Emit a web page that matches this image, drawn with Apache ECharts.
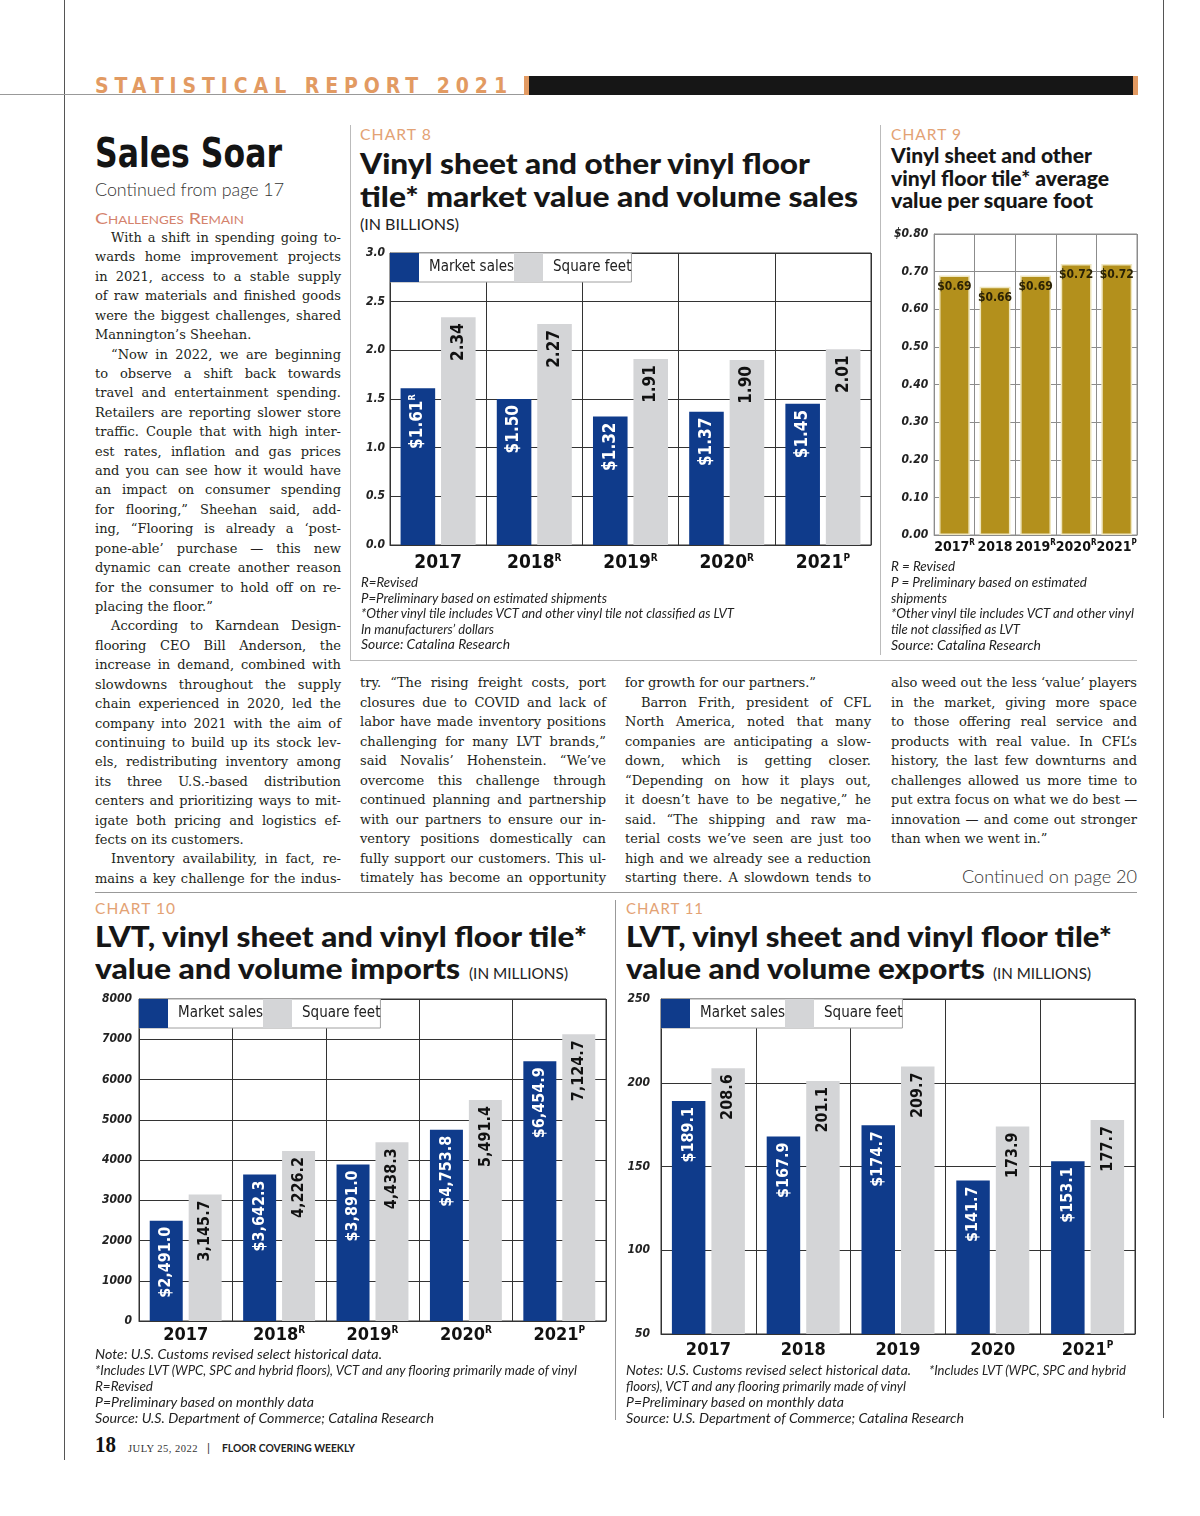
<!DOCTYPE html>
<html><head><meta charset="utf-8">
<script src="https://cdn.jsdelivr.net/npm/echarts@6/dist/echarts.min.js"></script>
<style>
html,body{margin:0;padding:0;background:#fff}
body{width:1200px;height:1516px;position:relative;overflow:hidden}
.t{position:absolute;white-space:nowrap;line-height:1;transform-origin:0 0}
.r{position:absolute}
.ch{position:absolute}
</style></head><body>
<div class="r" style="left:64px;top:0;width:1px;height:1460px;background:#555"></div>
<div class="r" style="left:1163px;top:0;width:1px;height:1418px;background:#555"></div>
<div class="r" style="left:0;top:94px;width:1138px;height:1px;background:#999"></div>
<div class="r" style="left:524px;top:76px;width:5px;height:19px;background:#e29a62"></div>
<div class="r" style="left:529px;top:76px;width:604px;height:19px;background:#161616"></div>
<div class="r" style="left:1133px;top:76px;width:5px;height:19px;background:#e29a62"></div>
<div class="r" style="left:350px;top:125px;width:1px;height:535px;background:#bbb"></div>
<div class="r" style="left:350px;top:660px;width:787px;height:1px;background:#bbb"></div>
<div class="r" style="left:880px;top:125px;width:1px;height:530px;background:#bbb"></div>
<div class="r" style="left:95px;top:892px;width:1042px;height:1px;background:#999"></div>
<div class="r" style="left:615px;top:900px;width:1px;height:520px;background:#999"></div>

<div id="c8" class="ch" style="left:355px;top:240px;width:525px;height:340px"></div>
<div id="c9" class="ch" style="left:891px;top:225px;width:250px;height:340px"></div>
<div id="c10" class="ch" style="left:85px;top:990px;width:525px;height:360px"></div>
<div id="c11" class="ch" style="left:615px;top:990px;width:530px;height:375px"></div>

<script>
// ---------------- DATA ----------------
const years = ['2017', '2018', '2019', '2020', '2021'];

const c8Marks = ['', 'R', 'R', 'R', 'P'];
const c8Sales = [1.61, 1.50, 1.32, 1.37, 1.45];
const c8SalesMarks = ['R', '', '', '', ''];
const c8Sqft = [2.34, 2.27, 1.91, 1.90, 2.01];
const c8Ticks = { min: 0, max: 3, interval: 0.5 };

const c9Marks = ['R', '', 'R', 'R', 'P'];
const c9Value = [0.69, 0.66, 0.69, 0.72, 0.72];
const c9Ticks = { min: 0, max: 0.8, interval: 0.1 };

const c10Marks = ['', 'R', 'R', 'R', 'P'];
const c10Sales = [2491.0, 3642.3, 3891.0, 4753.8, 6454.9];
const c10Sqft = [3145.7, 4226.2, 4438.3, 5491.4, 7124.7];
const c10Ticks = { min: 0, max: 8000, interval: 1000 };

const c11Marks = ['', '', '', '', 'P'];
const c11Sales = [189.1, 167.9, 174.7, 141.7, 153.1];
const c11Sqft = [208.6, 201.1, 209.7, 173.9, 177.7];
const c11Ticks = { min: 50, max: 250, interval: 50 };

const seriesNames = ['Market sales', 'Square feet'];

// ---------------- TEXT ----------------
const FN = '"Liberation Sans Narrow","DejaVu Sans Condensed","Arial Narrow",sans-serif';
const FL = 'Lato,"Open Sans",sans-serif';
const FS = '"DejaVu Serif","Liberation Serif",serif';

function put(html, x, base, css, target, mode) {
  const el = document.createElement('div');
  el.className = 't';
  el.style.cssText += css;
  el.innerHTML = html + '<i style="display:inline-block;width:0;height:0;vertical-align:baseline"></i>';
  document.body.appendChild(el);
  const b = el.lastChild.offsetTop;
  const w = el.getBoundingClientRect().width;
  el.style.top = (base - b) + 'px';
  el.style.left = (mode === 'right' ? x - (target || w) : x) + 'px';
  if (target) {
    if (mode === 'justify') {
      if (w < target) {
        el.style.whiteSpace = 'normal';
        el.style.width = target + 'px';
        el.style.textAlign = 'justify';
        el.style.textAlignLast = 'justify';
      } else el.style.transform = 'scaleX(' + (target / w) + ')';
    } else if (mode === 'fitmax') {
      if (w > target) el.style.transform = 'scaleX(' + (target / w) + ')';
    } else if (mode === 'ls') {
      const n = el.textContent.length;
      el.style.letterSpacing = ((target - w) / n) + 'px';
    } else el.style.transform = 'scaleX(' + (target / w) + ')';
  }
  return el;
}

// header
put('STATISTICAL REPORT 2021', 95, 93, `font:bold 21px ${FN};color:#e29a62`, 418, 'ls');
put('Sales Soar', 95, 167, `font:bold 41px ${FN};color:#141414`, 187);
put('Continued from page 17', 95, 196, `font:300 18px ${FL};color:#333`, 189);
put('Challenges Remain', 95, 224, `font:16px ${FL};font-variant:small-caps;color:#d4826c`, 149);

const body = `font:13px ${FS};color:#231f20`;
const col1 = [
 '>With a shift in spending going to-', 'wards home improvement projects', 'in 2021, access to a stable supply',
 'of raw materials and finished goods', 'were the biggest challenges, shared', '|Mannington’s Sheehan.',
 '>“Now in 2022, we are beginning', 'to observe a shift back towards', 'travel and entertainment spending.',
 'Retailers are reporting slower store', 'traffic. Couple that with high inter-', 'est rates, inflation and gas prices',
 'and you can see how it would have', 'an impact on consumer spending', 'for flooring,” Sheehan said, add-',
 'ing, “Flooring is already a ‘post-', 'pone-able’ purchase — this new', 'dynamic can create another reason',
 'for the consumer to hold off on re-', '|placing the floor.”',
 '>According to Karndean Design-', 'flooring CEO Bill Anderson, the', 'increase in demand, combined with',
 'slowdowns throughout the supply', 'chain experienced in 2020, led the', 'company into 2021 with the aim of',
 'continuing to build up its stock lev-', 'els, redistributing inventory among', 'its three U.S.-based distribution',
 'centers and prioritizing ways to mit-', 'igate both pricing and logistics ef-', '|fects on its customers.',
 '>Inventory availability, in fact, re-', 'mains a key challenge for the indus-'
];
const col2 = [
 'try. “The rising freight costs, port', 'closures due to COVID and lack of', 'labor have made inventory positions',
 'challenging for many LVT brands,”', 'said Novalis’ Hohenstein. “We’ve', 'overcome this challenge through',
 'continued planning and partnership', 'with our partners to ensure our in-', 'ventory positions domestically can',
 'fully support our customers. This ul-', 'timately has become an opportunity'
];
const col3 = [
 '|for growth for our partners.”', '>Barron Frith, president of CFL', 'North America, noted that many',
 'companies are anticipating a slow-', 'down, which is getting closer.', '“Depending on how it plays out,',
 'it doesn’t have to be negative,” he', 'said. “The shipping and raw ma-', 'terial costs we’ve seen are just too',
 'high and we already see a reduction', 'starting there. A slowdown tends to'
];
const col4 = [
 'also weed out the less ‘value’ players', 'in the market, giving more space', 'to those offering real service and',
 'products with real value. In CFL’s', 'history, the last few downturns and', 'challenges allowed us more time to',
 'put extra focus on what we do best —', 'innovation — and come out stronger', '|than when we went in.”'
];
function column(lines, x, base0, step) {
  lines.forEach((ln, i) => {
    let ind = 0, just = true;
    if (ln[0] === '>') { ind = 16; ln = ln.slice(1); }
    if (ln[0] === '|') { just = false; ln = ln.slice(1); }
    put(ln, x + ind, base0 + i * step, body, 246 - ind, just ? 'justify' : 'fitmax');
  });
}
column(col1, 95, 242, 19.42);
column(col2, 360, 687, 19.5);
column(col3, 625, 687, 19.5);
column(col4, 891, 687, 19.5);
put('Continued on page 20', 1137, 883, `font:300 18px ${FL};color:#333`, 175, 'right');

// chart headings
const kick = `font:15px ${FL};color:#e3a274;letter-spacing:1px`;
const ttl = (s) => `font:900 ${s}px ${FL};color:#161616`;
const note = `font:italic 13px ${FL};color:#222`;
put('CHART 8', 360, 140, kick, 72);
put('Vinyl sheet and other vinyl floor', 360, 174, ttl(29), 450);
put('tile* market value and volume sales', 360, 207, ttl(29), 498);
put('(IN BILLIONS)', 360, 230, `font:15px ${FL};color:#222`, 99);
[['R=Revised', 57], ['P=Preliminary based on estimated shipments', 246],
 ['*Other vinyl tile includes VCT and other vinyl tile not classified as LVT', 373],
 ['In manufacturers’ dollars', 133], ['Source: Catalina Research', 149]]
 .forEach((n, i) => put(n[0], 361, 587 + i * 15.6, note, n[1]));

put('CHART 9', 891, 140, kick, 71);
put('Vinyl sheet and other', 891, 163, ttl(21), 201);
put('vinyl floor tile* average', 891, 186, ttl(21), 218);
put('value per square foot', 891, 208, ttl(21), 202);
[['R = Revised', 64], ['P = Preliminary based on estimated', 196], ['shipments', 56],
 ['*Other vinyl tile includes VCT and other vinyl', 243], ['tile not classified as LVT', 129],
 ['Source: Catalina Research', 150]]
 .forEach((n, i) => put(n[0], 891, 571 + i * 15.8, note, n[1]));

put('CHART 10', 95, 914, kick, 81);
put('LVT, vinyl sheet and vinyl floor tile*', 95, 947, ttl(29), 492);
put('value and volume imports', 95, 979, ttl(29), 365);
put('(IN MILLIONS)', 469, 979, `font:15px ${FL};color:#222`, 99);
[['Note: U.S. Customs revised select historical data.', 287],
 ['*Includes LVT (WPC, SPC and hybrid floors), VCT and any flooring primarily made of vinyl', 482],
 ['R=Revised', 58], ['P=Preliminary based on monthly data', 219],
 ['Source: U.S. Department of Commerce; Catalina Research', 339]]
 .forEach((n, i) => put(n[0], 95, 1359 + i * 16, note, n[1]));

put('CHART 11', 626, 914, kick, 78);
put('LVT, vinyl sheet and vinyl floor tile*', 626, 947, ttl(29), 486);
put('value and volume exports', 626, 979, ttl(29), 359);
put('(IN MILLIONS)', 993, 979, `font:15px ${FL};color:#222`, 98);
put('Notes: U.S. Customs revised select historical data.', 626, 1375, note, 285);
put('*Includes LVT (WPC, SPC and hybrid', 929, 1375, note, 197);
[['floors), VCT and any flooring primarily made of vinyl', 280], ['P=Preliminary based on monthly data', 218],
 ['Source: U.S. Department of Commerce; Catalina Research', 338]]
 .forEach((n, i) => put(n[0], 626, 1391 + i * 16, note, n[1]));

// footer
put('18', 95, 1452, `font:bold 24px "Liberation Serif",serif;color:#111`, 21);
put('JULY 25, 2022', 128, 1452, `font:11px "Liberation Serif",serif;color:#333;letter-spacing:0.5px`, 70);
put('|', 207, 1452, `font:12px ${FL};color:#333`);
put('FLOOR COVERING WEEKLY', 222, 1452, `font:bold 10.5px ${FL};color:#222`, 133);

// ---------------- CHARTS ----------------
const BLUE = '#0f3b8b', GRAY = '#d4d5d7', GOLD = '#b3901c';
const money2 = v => '$' + v.toFixed(2);
const plain2 = v => v.toFixed(2);
const comma1 = v => v.toLocaleString('en-US', { minimumFractionDigits: 1, maximumFractionDigits: 1 });

function barChart(id, cfg) {
  const ch = echarts.init(document.getElementById(id));
  const xFmt = (v, i) => cfg.marks[i] ? `{y|${v}}{s|${cfg.marks[i]}}` : `{y|${v}}`;
  const series = cfg.series.map(s => ({
    type: 'bar', name: s.name, data: s.data,
    barGap: cfg.barGap, barCategoryGap: cfg.barCategoryGap,
    itemStyle: { color: s.color, borderColor: s.border || s.color, borderWidth: s.border ? 1.5 : 0 },
    label: Object.assign({
      show: true,
      formatter: p => {
        const m = s.marks ? s.marks[p.dataIndex] : '';
        return m ? `{v|${s.fmt(p.value)}}{s|${m}}` : `{v|${s.fmt(p.value)}}`;
      },
      rich: {
        v: { fontFamily: FN, fontWeight: 'bold', fontSize: cfg.labelSize, color: s.labelColor, lineHeight: cfg.labelSize + 2 },
        s: { fontFamily: FN, fontWeight: 'bold', fontSize: 9, color: s.labelColor, lineHeight: 9, verticalAlign: 'top' }
      }
    }, cfg.rotate ? { position: 'insideTop', rotate: 90, align: 'right', verticalAlign: 'middle', distance: 6 }
                  : { position: 'insideTop', distance: 4 })
  }));
  ch.setOption({
    animation: false,
    grid: Object.assign({ show: true, borderColor: cfg.line, borderWidth: 1, containLabel: false }, cfg.grid),
    legend: cfg.legend ? {
      left: cfg.grid.left, top: cfg.grid.top, itemWidth: 29, itemHeight: 29, itemGap: 0, icon: 'rect',
      padding: 0, backgroundColor: '#fff', borderColor: '#a0a0a0', borderWidth: 1, selectedMode: false,
      textStyle: { fontFamily: FN, fontSize: 15, color: '#222', padding: [0, 11, 0, 5] }
    } : { show: false },
    xAxis: {
      type: 'category', data: years,
      axisTick: { show: false },
      axisLine: { lineStyle: { color: cfg.line, width: 1 } },
      splitLine: { show: true, lineStyle: { color: cfg.line, width: 1 } },
      axisLabel: {
        margin: cfg.xMargin, formatter: xFmt, interval: 0,
        rich: {
          y: { fontFamily: FN, fontWeight: 'bold', fontSize: cfg.xSize, color: '#111', lineHeight: cfg.xSize + 2 },
          s: { fontFamily: FN, fontWeight: 'bold', fontSize: cfg.xSize > 16 ? 10 : 8, color: '#111', lineHeight: 10, verticalAlign: 'top' }
        }
      }
    },
    yAxis: {
      type: 'value', min: cfg.ticks.min, max: cfg.ticks.max, interval: cfg.ticks.interval,
      axisLine: { show: true, lineStyle: { color: cfg.line } },
      axisTick: { show: false },
      splitLine: { show: true, lineStyle: { color: cfg.line, width: 1 } },
      axisLabel: { margin: cfg.yMargin, formatter: cfg.yFmt, fontFamily: FN, fontStyle: 'italic',
        fontWeight: 'bold', fontSize: 12, color: '#222' }
    },
    series
  });
}

barChart('c8', {
  grid: { left: 35, top: 13, right: 9, bottom: 35 }, line: '#333', legend: true, rotate: true,
  ticks: c8Ticks, yFmt: v => v.toFixed(1), yMargin: 5, xMargin: 8, xSize: 19, marks: c8Marks,
  labelSize: 17, barGap: '17%', barCategoryGap: '22%',
  series: [
    { name: seriesNames[0], data: c8Sales, color: BLUE, labelColor: '#fff', fmt: money2, marks: c8SalesMarks },
    { name: seriesNames[1], data: c8Sqft, color: GRAY, labelColor: '#111', fmt: plain2 }
  ]
});

barChart('c9', {
  grid: { left: 36, top: 9, right: 4, bottom: 30 }, line: '#8c8c8c', legend: false, rotate: false,
  ticks: c9Ticks, yFmt: v => (v > 0.79 ? '$' : '') + v.toFixed(2), yMargin: 6, xMargin: 4, xSize: 14, marks: c9Marks,
  labelSize: 12, barGap: '0%', barCategoryGap: '24%',
  series: [
    { name: 'Average value', data: c9Value, color: GOLD, border: '#efe6bf', labelColor: '#2a2205', fmt: money2 }
  ]
});

barChart('c10', {
  grid: { left: 54, top: 9, right: 4, bottom: 29 }, line: '#333', legend: true, rotate: true,
  ticks: c10Ticks, yFmt: v => String(v), yMargin: 7, xMargin: 4, xSize: 18, marks: c10Marks,
  labelSize: 16, barGap: '18%', barCategoryGap: '23%',
  series: [
    { name: seriesNames[0], data: c10Sales, color: BLUE, labelColor: '#fff', fmt: v => '$' + comma1(v) },
    { name: seriesNames[1], data: c10Sqft, color: GRAY, labelColor: '#111', fmt: comma1 }
  ]
});

barChart('c11', {
  grid: { left: 46, top: 9, right: 10, bottom: 31 }, line: '#333', legend: true, rotate: true,
  ticks: c11Ticks, yFmt: v => String(v), yMargin: 11, xMargin: 6, xSize: 18, marks: c11Marks,
  labelSize: 16, barGap: '18%', barCategoryGap: '23%',
  series: [
    { name: seriesNames[0], data: c11Sales, color: BLUE, labelColor: '#fff', fmt: v => '$' + v.toFixed(1) },
    { name: seriesNames[1], data: c11Sqft, color: GRAY, labelColor: '#111', fmt: v => v.toFixed(1) }
  ]
});
</script>
</body></html>
